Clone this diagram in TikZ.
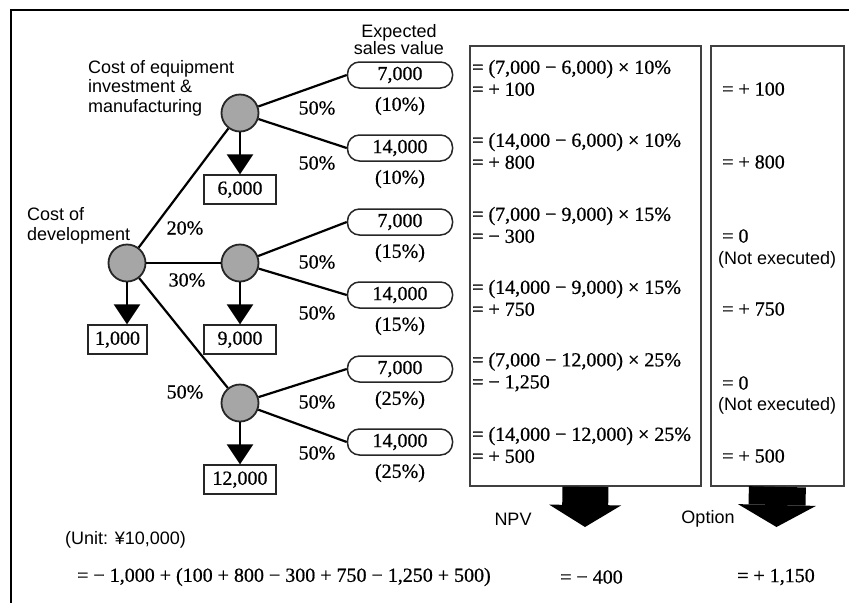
\documentclass[tikz,border=0pt]{standalone}
\usepackage{fontspec}
\setmainfont{Liberation Serif}[FakeBold=0.7]
\newfontfamily\labelfont{Liberation Sans}
\usetikzlibrary{arrows.meta, positioning, calc}

\newcommand{\numsize}{\fontsize{20}{22}\selectfont}
\newcommand{\labsize}{\labelfont\fontsize{18}{19.5}\selectfont}

\begin{document}
\begin{tikzpicture}[
    x=1pt, y=-1pt,
    chance/.style={circle, draw=black!85, fill=black!35, line width=1.8pt, minimum size=37pt, inner sep=0pt},
    costbox/.style={rectangle, draw=black!85, line width=1.5pt, minimum width=72pt, minimum height=29pt, inner sep=2pt, font=\numsize},
    salesbox/.style={rectangle, rounded corners=12pt, draw=black!85, line width=1.5pt, minimum width=105pt, minimum height=26pt, inner sep=2pt, font=\numsize},
    panel/.style={rectangle, draw=black!75, line width=1.8pt},
    plain/.style={font=\labsize, align=left, inner sep=0pt},
    num/.style={font=\numsize, inner sep=0pt},
    calcline/.style={font=\numsize, align=left, anchor=west, inner sep=0pt},
    branch/.style={line width=2.2pt},
    drop/.style={line width=2.2pt, -{Triangle[width=26pt, length=20pt]}},
    bigarrow/.style={-{Triangle[width=#1, length=22pt, line width=0pt]}}
]
    \useasboundingbox (0,0) rectangle (849,603);
    % Frame
    \draw[line width=1.8pt] (849,10) -- (11,10) -- (11,603);

    % Chance nodes
    \node[chance] (dev) at (127,263) {};
    \node[chance] (eqpA) at (240,113) {};
    \node[chance] (eqpB) at (240,263) {};
    \node[chance] (eqpC) at (240,403) {};

    % Costs
    \node[costbox, minimum width=59pt, below=42pt of dev, xshift=-9.5pt] (c1000) {1,000};
    \node[costbox, below=42pt of eqpA] (c6000) {6,000};
    \node[costbox, below=42pt of eqpB] (c9000) {9,000};
    \node[costbox, below=42pt of eqpC] (c12000) {12,000};

    % Expected sales value
    \node[salesbox] (sA1) at (400,75) {7,000};
    \node[salesbox] (sA2) at (400,148) {14,000};
    \node[salesbox] (sB1) at (400,222) {7,000};
    \node[salesbox] (sB2) at (400,295) {14,000};
    \node[salesbox] (sC1) at (400,369) {7,000};
    \node[salesbox] (sC2) at (400,442) {14,000};
    \node[num, below=8pt of sA1] (pA1) {(10\%)};
    \node[num, below=8pt of sA2] (pA2) {(10\%)};
    \node[num, below=8pt of sB1] (pB1) {(15\%)};
    \node[num, below=8pt of sB2] (pB2) {(15\%)};
    \node[num, below=8pt of sC1] (pC1) {(25\%)};
    \node[num, below=8pt of sC2] (pC2) {(25\%)};

    % Texts
    \node[plain, align=center, font={\labelfont\fontsize{18}{17}\selectfont}] (expect) at (399,40) {Expected\\sales value};
    \node[plain, anchor=west] (eqplab) at (88,88) {Cost of equipment\\investment \&\\manufacturing};
    \node[plain, anchor=west] (devlab) at (27,226) {Cost of\\development};

    % Probabilities
    \node[num] (q20) at (185,228) {20\%};
    \node[num] (q30) at (187,280) {30\%};
    \node[num] (q50) at (185,392) {50\%};
    \node[num] (hA1) at (317,108) {50\%};
    \node[num] (hA2) at (317,163) {50\%};
    \node[num] (hB1) at (317,262) {50\%};
    \node[num] (hB2) at (317,313) {50\%};
    \node[num] (hC1) at (317,402) {50\%};
    \node[num] (hC2) at (317,453) {50\%};

    % Connections
    \draw[branch] (dev) -- (eqpA);
    \draw[branch] (dev) -- (eqpB);
    \draw[branch] (dev) -- (eqpC);
    \draw[branch] (eqpA) -- (sA1.west);
    \draw[branch] (eqpA) -- (sA2.west);
    \draw[branch] (eqpB) -- (sB1.west);
    \draw[branch] (eqpB) -- (sB2.west);
    \draw[branch] (eqpC) -- (sC1.west);
    \draw[branch] (eqpC) -- (sC2.west);
    \draw[drop] (dev) -- (dev |- c1000.north);
    \draw[drop] (eqpA) -- (eqpA |- c6000.north);
    \draw[drop] (eqpB) -- (eqpB |- c9000.north);
    \draw[drop] (eqpC) -- (eqpC |- c12000.north);

    % NPV and option panels
    \node[panel, minimum width=231pt, minimum height=440pt, anchor=north west] (npv) at (469,45) {};
    \node[panel, minimum width=133pt, minimum height=440pt, anchor=north west] (opt) at (710,45) {};

    \node[calcline] (n1) at (472,78) {= (7,000 − 6,000) × 10\%\\= + 100};
    \node[calcline] (n2) at (472,151) {= (14,000 − 6,000) × 10\%\\= + 800};
    \node[calcline] (n3) at (472,225) {= (7,000 − 9,000) × 15\%\\= − 300};
    \node[calcline] (n4) at (472,298) {= (14,000 − 9,000) × 15\%\\= + 750};
    \node[calcline] (n5) at (472,372) {= (7,000 − 12,000) × 25\%\\= − 1,250};
    \node[calcline] (n6) at (472,445) {= (14,000 − 12,000) × 25\%\\= + 500};

    \node[calcline] (o1) at (722,89) {= + 100};
    \node[calcline] (o2) at (722,162) {= + 800};
    \node[calcline] (o3) at (722,236) {= 0};
    \node[calcline] (o4) at (722,309) {= + 750};
    \node[calcline] (o5) at (722,383) {= 0};
    \node[calcline] (o6) at (722,456) {= + 500};
    \node[plain, anchor=west] (x3) at (718,260) {(Not executed)};
    \node[plain, anchor=west] (x5) at (718,406) {(Not executed)};

    % Results
    \coordinate (npvtip) at (585,527);
    \coordinate (opttip) at (776.5,527);
    \draw[bigarrow=72pt, line width=46pt] (npv.south) -- (npvtip);
    \draw[bigarrow=78pt, line width=57pt] (opt.south) -- (opttip);
    \node[plain] (npvlab) at (513,519) {NPV};
    \node[plain] (optlab) at (708,519) {Option};

    \node[plain, anchor=west] (unit) at (65,540) {(Unit: ¥10,000)};
    \node[num, anchor=west] (total) at (77,577) {= − 1,000 + (100 + 800 − 300 + 750 − 1,250 + 500)};
    \node[num, anchor=west] (npvval) at (560,577) {= − 400};
    \node[num, anchor=west] (optval) at (737,577) {= + 1,150};
\end{tikzpicture}
\end{document}
